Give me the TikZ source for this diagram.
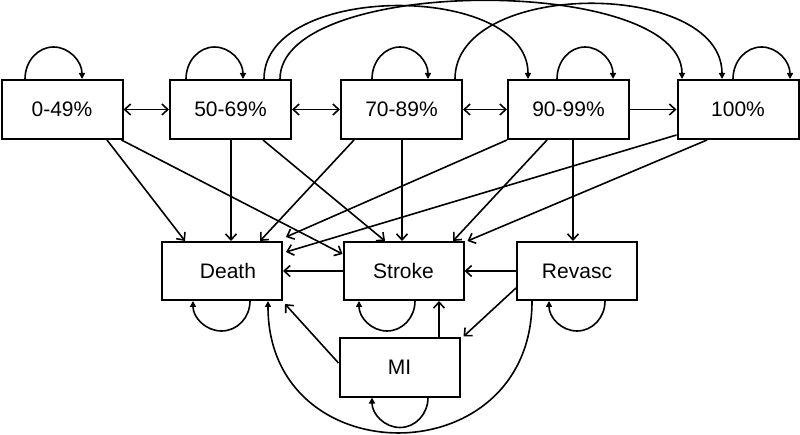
\documentclass[tikz,border=0pt]{standalone}
\usepackage{fontspec}
\setmainfont{Liberation Sans}
\usetikzlibrary{arrows.meta}
\begin{document}
\begin{tikzpicture}[x=1pt,y=-1pt,
  box/.style={draw,line width=2pt,minimum width=121pt,minimum height=59pt,inner sep=0pt,font=\fontsize{21}{25}\selectfont},
  bbox/.style={box,minimum width=120pt,minimum height=58pt},
  conn/.style={line width=1.6pt,-{Straight Barb[length=6pt,width=11pt]}},
  dconn/.style={line width=1.6pt,{Straight Barb[length=6pt,width=11pt]}-{Straight Barb[length=6pt,width=11pt]}},
  loopa/.style={line width=1.6pt,-{Triangle[length=6pt,width=6pt]}},
]
\useasboundingbox (0,0) rectangle (800,435);
% top states
\node[box] (n0) at (62,109.5) {0-49\%};
\node[box] (n1) at (230.5,109.5) {50-69\%};
\node[box] (n2) at (401.5,109.5) {70-89\%};
\node[box] (n3) at (568.5,109.5) {90-99\%};
\node[box] (n4) at (738,109.5) {100\%};
% outcome states
\node[bbox] (death) at (222,271) {\hspace*{12pt}Death};
\node[bbox] (stroke) at (403.5,271) {Stroke};
\node[bbox] (revasc) at (577,271) {Revasc};
\node[bbox] (mi) at (399.5,367.5) {MI};
% horizontal transitions
\draw[dconn] (n0.east) -- (n1.west);
\draw[dconn] (n1.east) -- (n2.west);
\draw[dconn] (n2.east) -- (n3.west);
\draw[conn] (n3.east) -- (n4.west);
% self loops top
\draw[loopa] ([xshift=-37pt]n0.north) arc[start angle=180,end angle=360,x radius=28.5,y radius=32];
\draw[loopa] ([xshift=-44.5pt]n1.north) arc[start angle=180,end angle=360,x radius=28.5,y radius=32];
\draw[loopa] ([xshift=-29.5pt]n2.north) arc[start angle=180,end angle=360,x radius=28,y radius=32];
\draw[loopa] ([xshift=-11.5pt]n3.north) arc[start angle=180,end angle=360,x radius=28,y radius=32];
\draw[loopa] ([xshift=-5pt]n4.north) arc[start angle=180,end angle=360,x radius=28.5,y radius=32];
% long arcs
\draw[loopa] ([xshift=33.5pt]n1.north) .. controls +(0,-97) and +(0,-97) .. ([xshift=-40.5pt]n3.north);
\draw[loopa] ([xshift=49.5pt]n1.north) .. controls +(0,-104) and +(0,-104) .. ([xshift=-56pt]n4.north);
\draw[loopa] ([xshift=53.5pt]n2.north) .. controls +(0,-100) and +(0,-100) .. ([xshift=-16pt]n4.north);
% downward transitions
\draw[conn] ([xshift=45pt]n0.south) -- ([xshift=-37pt]death.north);
\draw[conn] ([xshift=-2pt]n0.south east) -- ([yshift=-13pt]stroke.north west);
\coordinate (v1) at ([xshift=0.5pt]n1.south);
\draw[conn] (v1) -- (v1 |- death.north);
\draw[conn] ([xshift=32.5pt]n1.south) -- ([xshift=-18.5pt]stroke.north);
\draw[conn] ([xshift=-47.5pt]n2.south) -- ([xshift=38pt]death.north);
\coordinate (v2) at ([xshift=0.5pt]n2.south);
\draw[conn] (v2) -- (v2 |- stroke.north);
\draw[conn] (n3.south west) -- ([xshift=3pt,yshift=4pt]death.north east);
\draw[conn] ([xshift=-21.5pt]n3.south) -- ([xshift=49.5pt]stroke.north);
\coordinate (r3) at ([xshift=4.5pt]n3.south);
\draw[conn] (r3) -- (r3 |- revasc.north);
\draw[conn] ([yshift=5pt]n4.south west) -- ([xshift=3pt,yshift=-11pt]death.north east);
\draw[conn] ([xshift=-31pt]n4.south) -- ([xshift=3pt]stroke.north east);
% outcome transitions
\draw[conn] (stroke.west) -- (death.east);
\draw[conn] (revasc.west) -- (stroke.east);
\draw[conn] ([yshift=13pt]revasc.south west) -- ([xshift=3pt,yshift=1pt]mi.north east);
\coordinate (m1) at ([xshift=39.5pt]mi.north);
\draw[conn] (m1) -- (m1 |- stroke.south);
\draw[conn] ([yshift=4.5pt]mi.west) -- ([xshift=2pt,yshift=-3pt]death.south east);
\draw[loopa] ([xshift=-45pt]revasc.south) .. controls +(0,175) and +(0,175) .. ([xshift=46pt]death.south);
% self loops bottom
\draw[loopa] ([xshift=28pt]death.south) arc[start angle=0,end angle=180,x radius=28.5,y radius=30];
\draw[loopa] ([xshift=11.5pt]stroke.south) arc[start angle=0,end angle=180,x radius=28,y radius=30];
\draw[loopa] ([xshift=28pt]revasc.south) arc[start angle=0,end angle=180,x radius=28,y radius=30];
\draw[loopa] ([xshift=28.5pt]mi.south) arc[start angle=0,end angle=180,x radius=28,y radius=30];
\end{tikzpicture}
\end{document}
